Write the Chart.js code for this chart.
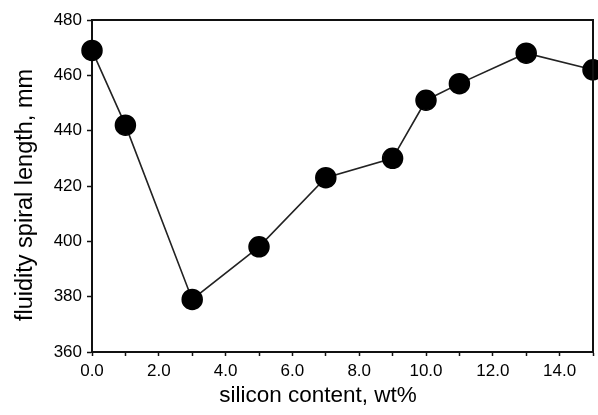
<!DOCTYPE html>
<html>
<head>
<meta charset="utf-8">
<script src="https://cdn.jsdelivr.net/npm/chart.js@4/dist/chart.umd.min.js"></script>
<style>
  html, body { margin: 0; padding: 0; background: #fff; }
  #wrap { width: 598px; height: 415px; position: relative; }
</style>
</head>
<body>
<div id="wrap"><canvas id="chart"></canvas></div>
<script>
  // silicon content (wt%) and spiral length (mm)
  const siliconContent = [0, 1, 3, 5, 7, 9, 10, 11, 13, 15];
  const spiralLength = [469, 442, 379, 398, 423, 430, 451, 457, 468, 462];

  const xLabelValues = [0, 2, 4, 6, 8, 10, 12, 14];
  const yTickValues = [360, 380, 400, 420, 440, 460, 480];

  const xTitle = "silicon content, wt%";
  const yTitle = "fluidity spiral length, mm";

  const fam = "Liberation Sans, Arial, sans-serif";
  const axisFont = { family: fam, size: 17 };

  // the original axis titles sit a bit off-centre, so draw them by hand
  const axisTitles = {
    id: "axisTitles",
    afterDraw(chart) {
      const ctx = chart.ctx;
      ctx.save();
      ctx.fillStyle = "#000";
      ctx.textAlign = "center";
      ctx.textBaseline = "alphabetic";
      ctx.font = "22.5px " + fam;
      ctx.fillText(xTitle, 318, 402);
      ctx.translate(32, 195);
      ctx.rotate(-Math.PI / 2);
      ctx.font = "23.5px " + fam;
      ctx.fillText(yTitle, 0, 0);
      ctx.restore();
    }
  };

  const frame = {
    id: "frame",
    afterDraw(chart) {
      const { ctx, chartArea: a } = chart;
      ctx.save();
      ctx.strokeStyle = "#111";
      ctx.lineWidth = 2;
      ctx.beginPath();
      ctx.moveTo(a.left, a.top);
      ctx.lineTo(a.right, a.top);
      ctx.lineTo(a.right, a.bottom);
      ctx.stroke();
      ctx.restore();
    }
  };

  new Chart(document.getElementById("chart"), {
    type: "scatter",
    data: {
      datasets: [{
        data: siliconContent.map((x, i) => ({ x: x, y: spiralLength[i] })),
        showLine: true,
        borderColor: "#222",
        borderWidth: 1.6,
        backgroundColor: "#000",
        pointBackgroundColor: "#000",
        pointBorderColor: "#000",
        pointBorderWidth: 1.5,
        pointRadius: 10,
        clip: false
      }]
    },
    options: {
      responsive: true,
      maintainAspectRatio: false,
      animation: false,
      layout: { autoPadding: false, padding: { top: 20, right: 3, left: 0, bottom: 0 } },
      plugins: { legend: { display: false }, tooltip: { enabled: false } },
      scales: {
        x: {
          type: "linear",
          min: 0,
          max: 15,
          border: { display: true, color: "#111", width: 2 },
          grid: { drawOnChartArea: false, color: "#111", tickLength: 4, tickWidth: 1.5 },
          ticks: {
            stepSize: 1,
            color: "#000",
            font: axisFont,
            padding: 5,
            maxRotation: 0,
            autoSkip: false,
            callback: (v) => xLabelValues.includes(v) ? v.toFixed(1) : ""
          },
          afterFit: (s) => { s.height = 63; }
        },
        y: {
          min: 360,
          max: 480,
          border: { display: true, color: "#111", width: 2 },
          grid: { drawOnChartArea: false, color: "#111", tickLength: 5, tickWidth: 1.5 },
          afterBuildTicks: (s) => { s.ticks = yTickValues.map((v) => ({ value: v })); },
          ticks: { color: "#000", font: axisFont, padding: 5 },
          afterFit: (s) => { s.width = 92; }
        }
      }
    },
    plugins: [frame, axisTitles]
  });
</script>
</body>
</html>
